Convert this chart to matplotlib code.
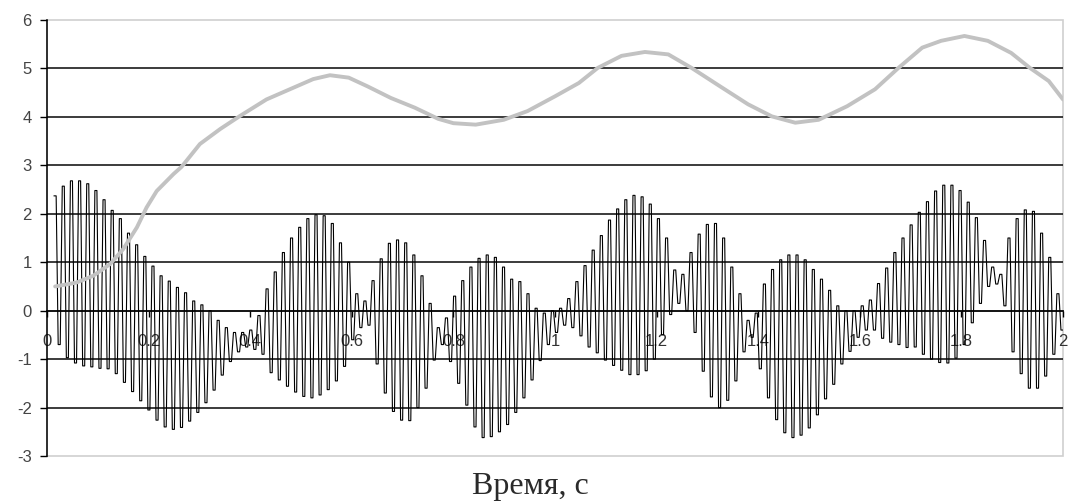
import numpy as np
import matplotlib
matplotlib.use("Agg")
import matplotlib.pyplot as plt
from matplotlib.ticker import MultipleLocator, FixedLocator

plt.rcParams["axes.unicode_minus"] = False

# Signal peaks / troughs read per carrier cycle (black line)
sig_hi = [2.37, 2.57, 2.68, 2.68, 2.62, 2.48, 2.29, 2.07, 1.9, 1.6,
          1.36, 1.12, 0.92, 0.72, 0.61, 0.48, 0.37, 0.2, 0.12, 0.0,
          -0.2, -0.35, -0.45, -0.45, -0.4, -0.1, 0.45, 0.8, 1.2, 1.5,
          1.72, 1.9, 1.98, 1.96, 1.8, 1.4, 1.0, 0.35, 0.2, 0.62,
          1.07, 1.39, 1.46, 1.4, 1.15, 0.72, 0.15, -0.35, -0.15, 0.3,
          0.62, 0.9, 1.08, 1.15, 1.1, 0.9, 0.65, 0.6, 0.35, 0.05,
          -0.05, 0.0, 0.05, 0.25, 0.6, 0.93, 1.25, 1.55, 1.87, 2.1,
          2.29, 2.38, 2.35, 2.2, 1.9, 1.5, 0.84, 0.75, 1.2, 1.58,
          1.78, 1.8, 1.5, 0.9, 0.35, -0.2, -0.05, 0.55, 0.85, 1.05,
          1.15, 1.15, 1.05, 0.85, 0.65, 0.42, 0.1, 0.0, 0.0, 0.1,
          0.22, 0.56, 0.88, 1.2, 1.5, 1.77, 2.03, 2.25, 2.47, 2.59,
          2.59, 2.48, 2.24, 1.92, 1.45, 0.9, 0.75, 1.5, 1.9, 2.08,
          2.05, 1.6, 1.1, 0.35]
sig_lo = [-0.7, -0.97, -1.08, -1.14, -1.16, -1.19, -1.2, -1.3, -1.48, -1.67,
          -1.86, -2.05, -2.26, -2.4, -2.45, -2.41, -2.28, -2.1, -1.9, -1.64,
          -1.33, -1.05, -0.85, -0.75, -0.8, -0.9, -1.28, -1.43, -1.56, -1.68,
          -1.77, -1.8, -1.74, -1.63, -1.45, -1.15, -0.6, -0.35, -0.3, -1.1,
          -1.7, -2.08, -2.26, -2.27, -2.0, -1.6, -1.02, -0.7, -1.05, -1.5,
          -1.95, -2.4, -2.62, -2.6, -2.5, -2.35, -2.1, -1.8, -1.43, -1.03,
          -0.7, -0.45, -0.3, -0.35, -0.52, -0.75, -0.87, -1.02, -1.13, -1.23,
          -1.32, -1.32, -1.24, -1.0, -0.5, -0.08, 0.15, 0.0, -0.45, -1.25,
          -1.78, -2.0, -1.85, -1.45, -0.85, -0.55, -1.2, -1.8, -2.25, -2.52,
          -2.62, -2.57, -2.42, -2.15, -1.82, -1.52, -1.1, -0.84, -0.55, -0.4,
          -0.4, -0.57, -0.65, -0.7, -0.76, -0.75, -0.9, -1.0, -1.07, -1.08,
          -0.98, -0.7, -0.25, 0.15, 0.5, 0.55, 0.1, -0.85, -1.3, -1.6,
          -1.6, -1.35, -0.9, -0.4]
sig_start, sig_end = 0.014, 2.0

# Smooth grey curve
grey_t = [0.016, 0.058, 0.091, 0.124, 0.15, 0.177, 0.196, 0.216, 0.249, 0.265,
          0.301, 0.341, 0.38, 0.432, 0.478, 0.524, 0.557, 0.594, 0.631, 0.677,
          0.724, 0.77, 0.80, 0.844, 0.899, 0.946, 1.001, 1.047, 1.084, 1.131,
          1.177, 1.223, 1.269, 1.325, 1.38, 1.427, 1.473, 1.519, 1.575, 1.63,
          1.676, 1.723, 1.76, 1.806, 1.852, 1.898, 1.935, 1.972, 2.0]
grey_v = [0.5, 0.58, 0.72, 0.96, 1.27, 1.72, 2.13, 2.47, 2.82, 2.97,
          3.44, 3.75, 4.02, 4.36, 4.57, 4.78, 4.86, 4.81, 4.63, 4.39,
          4.19, 3.96, 3.87, 3.84, 3.94, 4.12, 4.43, 4.7, 5.01, 5.26,
          5.34, 5.29, 5.01, 4.63, 4.26, 4.01, 3.88, 3.94, 4.22, 4.57,
          5.01, 5.43, 5.57, 5.67, 5.57, 5.32, 5.01, 4.74, 4.36]

x_ticks = [0, 0.2, 0.4, 0.6, 0.8, 1, 1.2, 1.4, 1.6, 1.8, 2]
x_labels = ["0", "0.2", "0.4", "0.6", "0.8", "1", "1.2", "1.4", "1.6", "1.8", "2"]

# each peak and trough is held for two samples, like the sampled original
sig_v = np.repeat(np.column_stack([sig_hi, sig_lo]).ravel(), 2)
sig_t = np.linspace(sig_start, sig_end, len(sig_v))

fig = plt.figure(figsize=(10.68, 5.04), dpi=100)
ax = fig.add_axes([47 / 1068, 48 / 504, 1016 / 1068, 436 / 504])

ax.plot(sig_t, sig_v, color="black", linewidth=0.8, zorder=3)
ax.plot(grey_t, grey_v, color="#c2c2c2", linewidth=2.8, zorder=4,
        solid_capstyle="round")

ax.set_xlim(0, 2)
ax.set_ylim(-3, 6)

# frame: light grey box, black value axis, category axis on the zero line
ax.patch.set_edgecolor("#cfcfcf")
ax.patch.set_linewidth(1.2)
ax.spines["top"].set_visible(False)
ax.spines["right"].set_visible(False)
ax.spines["left"].set_color("black")
ax.spines["left"].set_linewidth(1.1)
ax.spines["bottom"].set_position(("data", 0))
ax.spines["bottom"].set_color("black")
ax.spines["bottom"].set_linewidth(1.3)

ax.yaxis.set_major_locator(MultipleLocator(1))
ax.yaxis.set_minor_locator(FixedLocator([-2, -1, 1, 2, 3, 4, 5]))
ax.yaxis.remove_overlapping_locs = False
ax.grid(which="minor", axis="y", color="#1a1a1a", linewidth=1.2)
ax.tick_params(axis="y", which="major", length=5, width=1, color="black",
               pad=6, labelsize=12, labelcolor="#444444")
ax.tick_params(axis="y", which="minor", length=0)

ax.set_xticks(x_ticks)
ax.set_xticklabels(x_labels)
ax.tick_params(axis="x", length=4, width=1, color="black", pad=13,
               labelsize=12, labelcolor="#333333")

for lab in ax.get_xticklabels() + ax.get_yticklabels():
    lab.set_family("Liberation Sans")

fig.text(0.497, 0.034, "Время, с", ha="center", va="center",
         family="Liberation Serif", fontsize=23, color="#2a2a2a")

fig.savefig("out.png", dpi=100)
